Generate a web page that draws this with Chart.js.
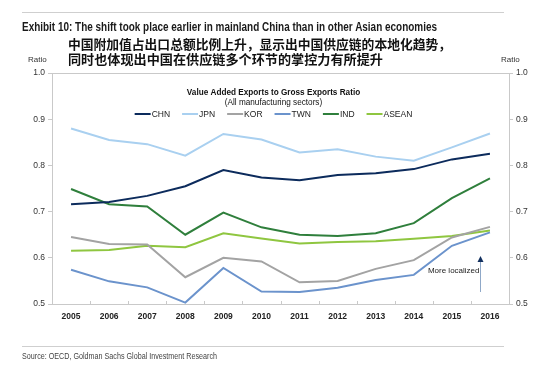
<!DOCTYPE html>
<html>
<head>
<meta charset="utf-8">
<script src="https://cdn.jsdelivr.net/npm/chart.js@4.4.1/dist/chart.umd.min.js"></script>
<style>
  html, body { margin: 0; padding: 0; background: #fff; }
  #wrap { position: relative; width: 550px; height: 368px; overflow: hidden; }
  #chart { position: absolute; left: 0; top: 0; }
  .txt { position: absolute; white-space: nowrap; transform-origin: 0 50%; }
  .rule { position: absolute; left: 22px; width: 482px; height: 1px; background: #cfcfcf; }
  #exhibit { left: 22px; top: 20px; font: bold 12px 'Liberation Sans Narrow', 'Liberation Sans', Arial, sans-serif; color: #1a1a1a; }
  .cn { left: 68px; font: bold 13px 'Noto Sans CJK SC', sans-serif; color: #111; line-height: 15px; }
  #cn1 { top: 36px; }
  #cn2 { top: 51px; }
  .ratio { font: 8px 'Liberation Sans', Arial, sans-serif; color: #333; top: 55px; }
  #source { left: 22px; top: 351px; font: 9px 'Liberation Sans Narrow', 'Liberation Sans', Arial, sans-serif; color: #444; }
</style>
</head>
<body>
<div id="wrap">
  <canvas id="chart" width="550" height="368"></canvas>
  <div class="rule" style="top:12px"></div>
  <div class="txt" id="exhibit" data-w="415">Exhibit 10: The shift took place earlier in mainland China than in other Asian economies</div>
  <div class="txt cn" id="cn1" data-w="383">中国附加值占出口总额比例上升，显示出中国供应链的本地化趋势，</div>
  <div class="txt cn" id="cn2" data-w="315">同时也体现出中国在供应链多个环节的掌控力有所提升</div>
  <div class="txt ratio" style="left:28px">Ratio</div>
  <div class="txt ratio" style="left:501px">Ratio</div>
  <div class="rule" style="top:346px"></div>
  <div class="txt" id="source" data-w="195">Source: OECD, Goldman Sachs Global Investment Research</div>
</div>
<script>
var years = ['2005', '2006', '2007', '2008', '2009', '2010', '2011', '2012', '2013', '2014', '2015', '2016'];
var chn   = [0.716, 0.721, 0.734, 0.755, 0.790, 0.774, 0.768, 0.779, 0.783, 0.792, 0.813, 0.825];
var jpn   = [0.880, 0.855, 0.846, 0.821, 0.868, 0.856, 0.828, 0.835, 0.819, 0.810, 0.839, 0.869];
var kor   = [0.645, 0.630, 0.629, 0.558, 0.600, 0.592, 0.547, 0.550, 0.576, 0.595, 0.644, 0.667];
var twn   = [0.574, 0.549, 0.536, 0.503, 0.578, 0.527, 0.526, 0.535, 0.552, 0.563, 0.626, 0.655];
var ind   = [0.749, 0.716, 0.711, 0.650, 0.698, 0.666, 0.650, 0.647, 0.653, 0.675, 0.729, 0.772];
var asean = [0.615, 0.617, 0.626, 0.623, 0.653, 0.642, 0.631, 0.634, 0.636, 0.641, 0.647, 0.659];
var yTicks = [0.5, 0.6, 0.7, 0.8, 0.9, 1.0];

var chartTitle = 'Value Added Exports to Gross Exports Ratio';
var chartSubtitle = '(All manufacturing sectors)';
var noteText = 'More localized';

// squeeze header / footer text to the widths seen in the reference
document.querySelectorAll('.txt[data-w]').forEach(function(el) {
    var w = el.getBoundingClientRect().width;
    var target = parseFloat(el.getAttribute('data-w'));
    if (w > 0) el.style.transform = 'scaleX(' + (target / w) + ')';
});

function series(label, data, color) {
    return { label: label, data: data, borderColor: color, backgroundColor: color,
             borderWidth: 2, pointRadius: 0, tension: 0, fill: false };
}

var axisColor = '#c9c9c9';
var tickFont = { family: "'Liberation Sans', Arial, sans-serif", size: 8.5 };

var overlay = {
    id: 'overlay',
    afterDraw: function(chart) {
        var ctx = chart.ctx, a = chart.chartArea;
        var xs = chart.scales.x, ys = chart.scales.y;
        ctx.save();
        // top border of the plot box
        ctx.strokeStyle = axisColor; ctx.lineWidth = 1;
        ctx.beginPath(); ctx.moveTo(a.left, a.top + 0.5); ctx.lineTo(a.right, a.top + 0.5); ctx.stroke();

        // small x tick marks pointing into the plot, at category boundaries
        for (var i = 1; i < years.length; i++) {
            var bx = Math.round((xs.getPixelForValue(i - 1) + xs.getPixelForValue(i)) / 2) + 0.5;
            ctx.beginPath(); ctx.moveTo(bx, a.bottom); ctx.lineTo(bx, a.bottom - 3); ctx.stroke();
        }

        var cx = (a.left + a.right) / 2 - 7;
        ctx.fillStyle = '#111'; ctx.textAlign = 'center'; ctx.textBaseline = 'middle';
        ctx.font = "bold 8.2px 'Liberation Sans', Arial, sans-serif";
        ctx.fillText(chartTitle, cx, a.top + 20);
        ctx.font = "8.2px 'Liberation Sans', Arial, sans-serif";
        ctx.fillText(chartSubtitle, cx, a.top + 29.5);

        // legend: short line + label
        ctx.font = "8.5px 'Liberation Sans', Arial, sans-serif";
        var sets = chart.data.datasets, lineLen = 16, gap = 1, itemGap = 12;
        var total = 0;
        sets.forEach(function(d, i) {
            total += lineLen + gap + ctx.measureText(d.label).width + (i < sets.length - 1 ? itemGap : 0);
        });
        var lx = cx - total / 2, ly = a.top + 41;
        ctx.textAlign = 'left';
        sets.forEach(function(d) {
            ctx.strokeStyle = d.borderColor; ctx.lineWidth = 2;
            ctx.beginPath(); ctx.moveTo(lx, ly); ctx.lineTo(lx + lineLen, ly); ctx.stroke();
            ctx.fillStyle = '#222';
            ctx.fillText(d.label, lx + lineLen + gap, ly + 0.5);
            lx += lineLen + gap + ctx.measureText(d.label).width + itemGap;
        });

        // "More localized" arrow
        var ax = Math.round(xs.getPixelForValue(11) - 10) + 0.5;
        var yTop = ys.getPixelForValue(0.593), yBot = ys.getPixelForValue(0.526);
        ctx.strokeStyle = '#8fa8c8'; ctx.lineWidth = 1;
        ctx.beginPath(); ctx.moveTo(ax, yBot); ctx.lineTo(ax, yTop); ctx.stroke();
        ctx.fillStyle = '#12305f';
        ctx.beginPath(); ctx.moveTo(ax, yTop - 5); ctx.lineTo(ax - 3, yTop + 1); ctx.lineTo(ax + 3, yTop + 1); ctx.closePath(); ctx.fill();
        ctx.fillStyle = '#222'; ctx.textAlign = 'right'; ctx.font = "8px 'Liberation Sans', Arial, sans-serif";
        ctx.fillText(noteText, ax - 1, ys.getPixelForValue(0.572));
        ctx.restore();
    }
};

function yAxis(pos, width) {
    return {
        type: 'linear', position: pos, min: 0.5, max: 1.0,
        afterBuildTicks: function(s) { s.ticks = yTicks.map(function(v) { return { value: v }; }); },
        afterFit: function(s) { s.width = width; },
        border: { color: axisColor, width: 1 },
        grid: { display: true, drawOnChartArea: false, drawTicks: true, tickLength: 4, color: axisColor },
        ticks: { color: '#333', font: tickFont, padding: 3,
                 callback: function(v) { return v.toFixed(1); } }
    };
}

new Chart(document.getElementById('chart'), {
    type: 'line',
    data: {
        labels: years,
        datasets: [
            series('CHN', chn, '#0c2b5c'),
            series('JPN', jpn, '#a9d0f0'),
            series('KOR', kor, '#a3a3a3'),
            series('TWN', twn, '#6b93cc'),
            series('IND', ind, '#2f7f3c'),
            series('ASEAN', asean, '#8fc640')
        ]
    },
    options: {
        responsive: false,
        animation: false,
        layout: { padding: { top: 73, left: 0, right: 0, bottom: 0 } },
        plugins: { legend: { display: false }, tooltip: { enabled: false } },
        scales: {
            x: {
                type: 'category', offset: true,
                afterFit: function(s) { s.height = 64; },
                border: { color: axisColor, width: 1 },
                grid: { display: false },
                ticks: { color: '#222', font: { family: "'Liberation Sans', Arial, sans-serif", size: 8.5, weight: 'bold' },
                         padding: 0, maxRotation: 0, autoSkip: false }
            },
            y: yAxis('left', 52),
            y2: yAxis('right', 41)
        }
    },
    plugins: [overlay]
});
</script>
</body>
</html>
